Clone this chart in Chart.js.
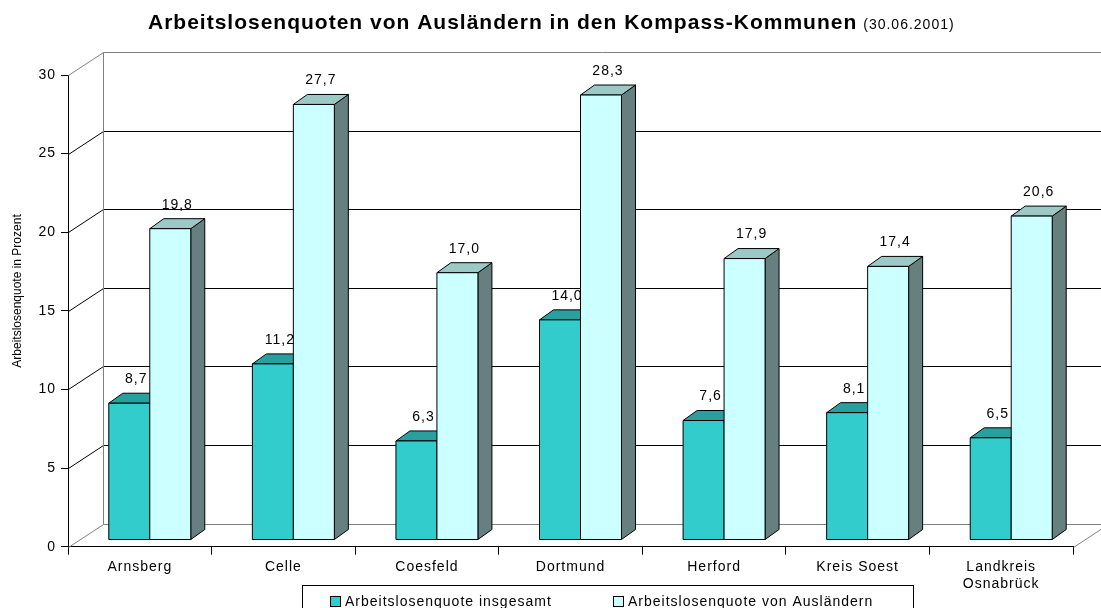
<!DOCTYPE html>
<html>
<head>
<meta charset="utf-8">
<script src="https://cdn.jsdelivr.net/npm/chart.js@4.4.1/dist/chart.umd.min.js"></script>
<style>
  html, body { margin: 0; padding: 0; background: #fff; }
</style>
</head>
<body>
<canvas id="quoten" width="1101" height="608"></canvas>
<script>
// Daten
var kommunen = ['Arnsberg', 'Celle', 'Coesfeld', 'Dortmund', 'Herford', 'Kreis Soest', ['Landkreis', 'Osnabrück']];
var quoteGesamt = [8.7, 11.2, 6.3, 14.0, 7.6, 8.1, 6.5];
var quoteAuslaender = [19.8, 27.7, 17.0, 28.3, 17.9, 17.4, 20.6];
var yTicks = [0, 5, 10, 15, 20, 25, 30];
var serien = ['Arbeitslosenquote insgesamt', 'Arbeitslosenquote von Ausländern'];

var schrift = "'Liberation Sans', Arial, sans-serif";

// Farben fuer die 3D-Flaechen: vorne, oben, seite
var farben = [
  { vorne: '#33CCCC', oben: '#29A0A0', seite: '#218080' },
  { vorne: '#CCFFFF', oben: '#9CC9C6', seite: '#668080' }
];

var wand = { x: 35, y: -23 };      // Tiefe des ganzen Diagramms
var versatz = { x: 10, y: -6.7 };  // Lage der Balken im Raum
var balkenTiefe = { x: 14, y: -10 };

function linie(ctx, pts, farbe) {
  ctx.beginPath();
  ctx.strokeStyle = farbe;
  ctx.lineWidth = 1;
  ctx.moveTo(Math.round(pts[0][0]) + 0.5, Math.round(pts[0][1]) + 0.5);
  for (var i = 1; i < pts.length; i++) ctx.lineTo(Math.round(pts[i][0]) + 0.5, Math.round(pts[i][1]) + 0.5);
  ctx.stroke();
}

function flaeche(ctx, pts, farbe) {
  ctx.beginPath();
  ctx.moveTo(pts[0][0], pts[0][1]);
  for (var i = 1; i < pts.length; i++) ctx.lineTo(pts[i][0], pts[i][1]);
  ctx.closePath();
  ctx.fillStyle = farbe;
  ctx.fill();
  ctx.strokeStyle = '#000';
  ctx.lineWidth = 1;
  ctx.stroke();
}

var dreiD = {
  id: 'dreiD',
  beforeDraw: function (chart) {
    chart.ctx.letterSpacing = '1px';
  },
  beforeDatasetsDraw: function (chart) {
    var ctx = chart.ctx, a = chart.chartArea, ys = chart.scales.y;
    ctx.save();
    // Rueckwand und Boden
    yTicks.forEach(function (v) {
      var py = ys.getPixelForValue(v);
      var rand = (v === yTicks[0] || v === yTicks[yTicks.length - 1]);
      linie(ctx, [[a.left, py], [a.left + wand.x, py + wand.y], [a.right + wand.x + 5, py + wand.y]], rand ? '#808080' : '#000');
    });
    var y0 = ys.getPixelForValue(0), yMax = ys.getPixelForValue(30);
    linie(ctx, [[a.left + wand.x, yMax + wand.y], [a.left + wand.x, y0 + wand.y]], '#808080');
    linie(ctx, [[a.right, y0], [a.right + wand.x, y0 + wand.y]], '#808080');

    // Balken
    var metas = [chart.getDatasetMeta(0), chart.getDatasetMeta(1)];
    for (var i = 0; i < kommunen.length; i++) {
      for (var d = 0; d < metas.length; d++) {
        var el = metas[d].data[i], f = farben[d];
        var l = el.x - el.width / 2 + versatz.x, r = el.x + el.width / 2 + versatz.x;
        var t = el.y + versatz.y, b = el.base + versatz.y;
        var dx = balkenTiefe.x, dy = balkenTiefe.y;
        flaeche(ctx, [[r, b], [r + dx, b + dy], [r + dx, t + dy], [r, t]], f.seite);
        flaeche(ctx, [[l, t], [l + dx, t + dy], [r + dx, t + dy], [r, t]], f.oben);
        flaeche(ctx, [[l, t], [r, t], [r, b], [l, b]], f.vorne);
      }
    }
    // Werte
    ctx.fillStyle = '#000';
    ctx.font = '14px ' + schrift;
    ctx.textAlign = 'center';
    ctx.textBaseline = 'middle';
    for (var d2 = 0; d2 < metas.length; d2++) {
      var werte = chart.data.datasets[d2].data;
      metas[d2].data.forEach(function (el, k) {
        var tx = el.x + versatz.x + balkenTiefe.x / 2;
        var ty = el.y + versatz.y + balkenTiefe.y - 14;
        ctx.fillText(werte[k].toFixed(1).replace('.', ','), tx, ty);
      });
    }
    ctx.restore();
    return false;
  },
  afterDraw: function (chart) {
    var ctx = chart.ctx;
    ctx.save();
    // Titel
    ctx.fillStyle = '#000';
    ctx.textBaseline = 'alphabetic';
    ctx.textAlign = 'left';
    ctx.letterSpacing = '1px';
    ctx.font = 'bold 21px ' + schrift;
    var titel = 'Arbeitslosenquoten von Ausländern in den Kompass-Kommunen';
    ctx.fillText(titel, 148, 29);
    var w = ctx.measureText(titel).width;
    ctx.font = '14px ' + schrift;
    ctx.fillText('(30.06.2001)', 148 + w + 6, 29);

    // Achsentitel
    ctx.save();
    ctx.letterSpacing = '0px';
    ctx.translate(18, 291);
    ctx.rotate(-Math.PI / 2);
    ctx.textAlign = 'center';
    ctx.textBaseline = 'middle';
    ctx.font = '12px ' + schrift;
    ctx.fillText('Arbeitslosenquote in Prozent', 0, 0);
    ctx.restore();

    // Legende
    ctx.strokeStyle = '#000';
    ctx.lineWidth = 1;
    ctx.strokeRect(302.5, 585.5, 611, 40);
    var lx = [330, 613];
    ctx.font = '14px ' + schrift;
    ctx.textBaseline = 'middle';
    chart.data.datasets.forEach(function (ds, k) {
      ctx.fillStyle = farben[k].vorne;
      ctx.fillRect(lx[k] + 0.5, 596.5, 10, 10);
      ctx.strokeRect(lx[k] + 0.5, 596.5, 10, 10);
      ctx.fillStyle = '#000';
      ctx.fillText(ds.label, lx[k] + 15, 602);
    });
    ctx.restore();
  }
};

new Chart('quoten', {
  type: 'bar',
  data: {
    labels: kommunen,
    datasets: [
      { label: serien[0], data: quoteGesamt, backgroundColor: farben[0].vorne },
      { label: serien[1], data: quoteAuslaender, backgroundColor: farben[1].vorne }
    ]
  },
  options: {
    responsive: false,
    animation: false,
    devicePixelRatio: 1,
    layout: { padding: { top: 75, right: 28, left: 0, bottom: 0 } },
    datasets: { bar: { categoryPercentage: 0.571, barPercentage: 1 } },
    plugins: { legend: { display: false }, title: { display: false }, tooltip: { enabled: false } },
    scales: {
      x: {
        grid: { drawOnChartArea: false, color: '#000', tickLength: 8, offset: true },
        border: { color: '#000' },
        ticks: { color: '#000', font: { family: schrift, size: 14 }, padding: 4, maxRotation: 0, autoSkip: false },
        afterFit: function (s) { s.height = 61.3; }
      },
      y: {
        min: 0, max: 30,
        afterBuildTicks: function (s) { s.ticks = yTicks.map(function (v) { return { value: v }; }); },
        grid: { drawOnChartArea: false, color: '#000', tickLength: 7 },
        border: { color: '#000' },
        ticks: { color: '#000', font: { family: schrift, size: 14 }, padding: 5 },
        afterFit: function (s) { s.width = 68; }
      }
    }
  },
  plugins: [dreiD]
});
</script>
</body>
</html>
